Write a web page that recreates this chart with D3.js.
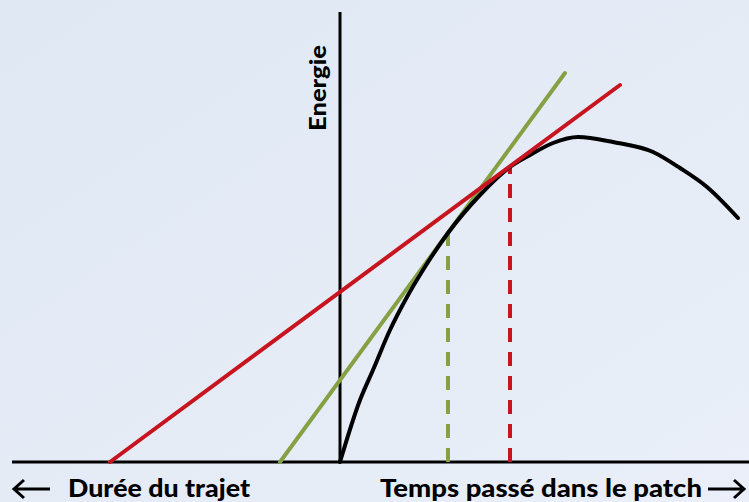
<!DOCTYPE html>
<html>
<head>
<meta charset="utf-8">
<script src="https://cdn.jsdelivr.net/npm/d3@7"></script>
<style>
  html, body { margin: 0; padding: 0; }
  svg { display: block; }
</style>
</head>
<body>
<svg id="chart"></svg>
<script>
// gain curve in the patch: [time, energy]
var gainCurve = [
    [0, 0], [0.5, 1.55], [0.825, 2.3], [1.25, 3.3], [1.675, 4.125],
    [2.075, 4.8], [2.7, 5.725], [3.5, 6.675], [4.25, 7.375], [4.75, 7.675],
    [5.325, 7.975], [5.95, 8.125], [6.825, 8.0], [7.825, 7.75], [8.5, 7.35],
    [9.175, 6.875], [9.95, 6.1]
];
// tangent lines from travel time
var redTangent = [[-5.75, 0], [7.0, 9.425]];
var greenTangent = [[-1.5, 0], [5.625, 9.725]];
// optimal leaving times
var optima = [
    { t: 2.7, e: 5.725, color: "#86a044" },
    { t: 4.25, e: 7.375, color: "#c8141e" }
];
var yLabel = "Energie";
var xLabelLeft = "Durée du trajet";
var xLabelRight = "Temps passé dans le patch";

var width = 749, height = 502;

var svg = d3.select("#chart")
    .attr("width", width)
    .attr("height", height);

var defs = svg.append("defs");
var grad = defs.append("linearGradient")
    .attr("id", "bg")
    .attr("x1", "0").attr("y1", "0")
    .attr("x2", "1").attr("y2", "1");
grad.append("stop").attr("offset", "0%").attr("stop-color", "#dfe8f3");
grad.append("stop").attr("offset", "100%").attr("stop-color", "#eaeff9");

svg.append("rect")
    .attr("width", width)
    .attr("height", height)
    .attr("fill", "url(#bg)");

var x = d3.scaleLinear().domain([-8.5, 10.225]).range([0, width]);
var y = d3.scaleLinear().domain([0, 11.55]).range([462, 0]);

var line = d3.line()
    .x((d) => x(d[0]))
    .y((d) => y(d[1]));

var smooth = d3.line()
    .curve(d3.curveMonotoneX)
    .x((d) => x(d[0]))
    .y((d) => y(d[1]));

// axes
svg.append("line")
    .attr("x1", 12).attr("x2", width)
    .attr("y1", y(0)).attr("y2", y(0))
    .attr("stroke", "#000").attr("stroke-width", 3);
svg.append("line")
    .attr("x1", x(0)).attr("x2", x(0))
    .attr("y1", 12).attr("y2", y(0))
    .attr("stroke", "#000").attr("stroke-width", 3);

// dashed verticals
svg.append("g")
    .selectAll("line")
    .data(optima)
    .enter()
    .append("line")
    .attr("x1", (d) => x(d.t)).attr("x2", (d) => x(d.t))
    .attr("y1", y(0)).attr("y2", (d) => y(d.e))
    .attr("stroke", (d) => d.color)
    .attr("stroke-width", 4)
    .attr("stroke-dasharray", "14,10");

// tangents
svg.append("path")
    .attr("d", line(greenTangent))
    .attr("fill", "none")
    .attr("stroke", "#86a044")
    .attr("stroke-width", 4)
    .attr("stroke-linecap", "round");

// gain curve
svg.append("path")
    .attr("d", smooth(gainCurve))
    .attr("fill", "none")
    .attr("stroke", "#000")
    .attr("stroke-width", 4)
    .attr("stroke-linecap", "round");

svg.append("path")
    .attr("d", line(redTangent))
    .attr("fill", "none")
    .attr("stroke", "#c8141e")
    .attr("stroke-width", 4)
    .attr("stroke-linecap", "round");

// labels
var font = "Lato, 'Open Sans', sans-serif";
svg.append("text")
    .attr("transform", `translate(${x(0) - 14}, 88) rotate(-90)`)
    .attr("text-anchor", "middle")
    .attr("font-family", font)
    .attr("font-weight", 900)
    .attr("font-size", 22)
    .attr("textLength", 86)
    .attr("lengthAdjust", "spacingAndGlyphs")
    .text(yLabel);

svg.append("text")
    .attr("x", 68).attr("y", 497)
    .attr("font-family", font)
    .attr("font-weight", 900)
    .attr("font-size", 25)
    .attr("textLength", 182)
    .attr("lengthAdjust", "spacingAndGlyphs")
    .text(xLabelLeft);

svg.append("text")
    .attr("x", 380).attr("y", 497)
    .attr("font-family", font)
    .attr("font-weight", 900)
    .attr("font-size", 25)
    .attr("textLength", 322)
    .attr("lengthAdjust", "spacingAndGlyphs")
    .text(xLabelRight);

// arrows
var arrow = svg.append("g")
    .attr("fill", "none")
    .attr("stroke", "#000")
    .attr("stroke-width", 3);
arrow.append("path").attr("d", "M14,489 H50 M24,480 L14,489 L24,498");
arrow.append("path").attr("d", "M708,489 H744 M734,480 L744,489 L734,498");
</script>
</body>
</html>
